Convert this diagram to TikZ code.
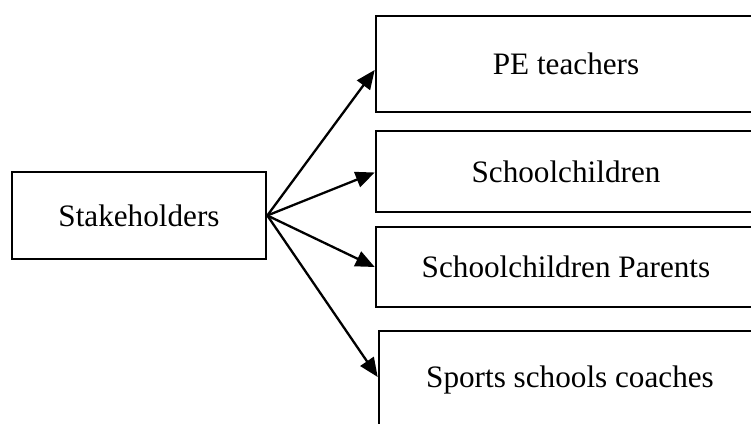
\documentclass[tikz,border=0pt]{standalone}
\usepackage{fontspec}
\setmainfont{Liberation Serif}
\usepackage{tikz}
\usetikzlibrary{arrows.meta}
\usetikzlibrary{positioning}
\tikzset{
  groupbox/.style={
    draw, line width=2.6pt, rectangle, align=center,
    font=\fontsize{31.2}{36}\selectfont, inner sep=0pt
  },
  link/.style={
    line width=2.3pt, -{Triangle[length=19pt, width=16pt]}
  }
}

\begin{document}
\begin{tikzpicture}[x=1pt, y=1pt]

  % page frame
  \clip (0,0) rectangle (751,423);

  % source box
  \node[groupbox, minimum width=254pt, minimum height=87pt] (stake) at (139, 207.5) {Stakeholders};

  % target boxes (right sides run off the page)
  \node[groupbox, minimum width=380pt, minimum height=96pt] (pe) at (566, 359) {PE teachers};
  \node[groupbox, minimum width=380pt, minimum height=81pt] (pupils) at (566, 251.5) {Schoolchildren};
  \node[groupbox, minimum width=380pt, minimum height=80pt] (parents) at (566, 156) {Schoolchildren Parents};
  \node[groupbox, minimum width=382pt, minimum height=98pt] (coaches) at (570, 43) {Sports schools coaches};

  % arrows
  \draw[link] (stake.east) -- ([yshift=-6pt]pe.west);
  \draw[link] (stake.east) -- ([yshift=-1pt]pupils.west);
  \draw[link] (stake.east) -- (parents.west);
  \draw[link] (stake.east) -- ([yshift=3pt]coaches.west);

\end{tikzpicture}
\end{document}
